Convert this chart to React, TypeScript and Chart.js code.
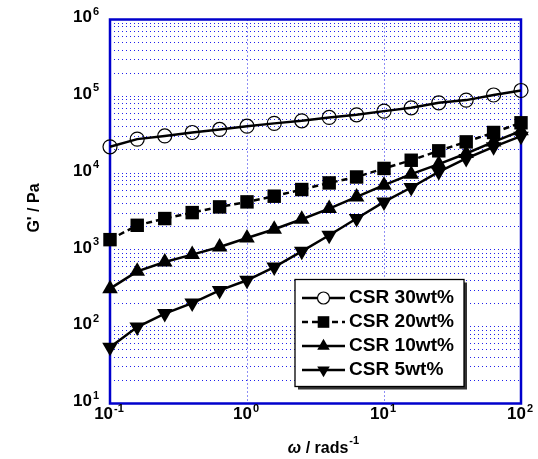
import React, { useEffect, useRef } from 'react';
import { Chart, registerables } from 'chart.js';

Chart.register(...registerables);

// ---- data ----
const omega = [0.1, 0.158, 0.251, 0.398, 0.631, 1, 1.58, 2.51, 3.98, 6.31, 10, 15.8, 25.1, 39.8, 63.1, 100];
const csr30 = [22000, 27700, 30500, 33800, 37000, 40800, 44400, 48000, 53100, 57400, 64100, 70800, 82300, 89200, 104000, 119000];
const csr20 = [1360, 2090, 2560, 3060, 3630, 4220, 5000, 6110, 7450, 8900, 11500, 14700, 19500, 25500, 33800, 45200];
const csr10 = [313, 526, 695, 868, 1090, 1430, 1860, 2510, 3450, 4900, 6960, 9680, 13100, 18000, 25500, 35500];
const csr5 = [54, 99, 148, 203, 297, 402, 598, 959, 1550, 2560, 4220, 6490, 10400, 15500, 22000, 30300];
const seriesLabels = ['CSR 30wt%', 'CSR 20wt%', 'CSR 10wt%', 'CSR 5wt%'];
const xTickExponents = [-1, 0, 1, 2];
const yTickExponents = [1, 2, 3, 4, 5, 6];
const yTitle = "G' / Pa";
const xTitleSymbol = 'ω';
const xTitleRest = ' / rads';
const xTitleSup = '-1';

const BLUE = '#0000cc';
const GRID = 'rgba(20,20,235,0.95)';
const FONT = '"Liberation Sans", Arial, sans-serif';

type Marker = 'circle' | 'rect' | 'triUp' | 'triDown';
const markers: Marker[] = ['circle', 'rect', 'triUp', 'triDown'];

function drawMarker(ctx: CanvasRenderingContext2D, kind: Marker, x: number, y: number, s: number) {
  ctx.save();
  ctx.setLineDash([]);
  ctx.beginPath();
  if (kind === 'circle') {
    ctx.arc(x, y, s, 0, Math.PI * 2);
    ctx.fillStyle = '#fff';
    ctx.fill();
    ctx.lineWidth = 1.2;
    ctx.strokeStyle = '#000';
    ctx.stroke();
  } else if (kind === 'rect') {
    ctx.rect(x - s, y - s, 2 * s, 2 * s);
    ctx.fillStyle = '#000';
    ctx.fill();
  } else {
    const d = kind === 'triUp' ? 1 : -1;
    const r = s * 1.25;
    ctx.moveTo(x, y - d * r);
    ctx.lineTo(x + r * 0.866, y + d * r * 0.5);
    ctx.lineTo(x - r * 0.866, y + d * r * 0.5);
    ctx.closePath();
    ctx.fillStyle = '#000';
    ctx.fill();
  }
  ctx.restore();
}

function drawPow(ctx: CanvasRenderingContext2D, x: number, y: number, exp: number, align: 'right' | 'center') {
  const main = '10';
  const sup = String(exp);
  ctx.font = `bold 17px ${FONT}`;
  const wm = ctx.measureText(main).width;
  ctx.font = `bold 11px ${FONT}`;
  const ws = ctx.measureText(sup).width;
  const total = wm + 1 + ws;
  const left = align === 'right' ? x - total : x - total / 2;
  ctx.fillStyle = '#000';
  ctx.textAlign = 'left';
  ctx.textBaseline = 'middle';
  ctx.font = `bold 17px ${FONT}`;
  ctx.fillText(main, left, y);
  ctx.font = `bold 11px ${FONT}`;
  ctx.textBaseline = 'alphabetic';
  ctx.fillText(sup, left + wm + 1, y - 3);
}

const decorPlugin = {
  id: 'decor',
  beforeDatasetsDraw(chart: any) {
    const { ctx, chartArea: a } = chart;
    ctx.save();
    ctx.strokeStyle = BLUE;
    ctx.lineWidth = 2.5;
    ctx.setLineDash([]);
    ctx.strokeRect(a.left, a.top, a.right - a.left, a.bottom - a.top);
    ctx.restore();
  },
  afterDraw(chart: any) {
    const { ctx, chartArea: a } = chart;
    const xs = chart.scales.x;
    const ys = chart.scales.y;
    ctx.save();
    // tick labels
    yTickExponents.forEach((e) => {
      drawPow(ctx, a.left - 11, ys.getPixelForValue(Math.pow(10, e)) - 2, e, 'right');
    });
    xTickExponents.forEach((e) => {
      drawPow(ctx, xs.getPixelForValue(Math.pow(10, e)) - 1, a.bottom + 11, e, 'center');
    });
    // y title
    ctx.save();
    ctx.translate(35, 208);
    ctx.rotate(-Math.PI / 2);
    ctx.font = `bold 16px ${FONT}`;
    ctx.textAlign = 'center';
    ctx.textBaseline = 'middle';
    ctx.fillStyle = '#000';
    ctx.fillText(yTitle, 0, 0);
    ctx.restore();
    // x title
    ctx.font = `italic bold 16px ${FONT}`;
    const w1 = ctx.measureText(xTitleSymbol).width;
    ctx.font = `bold 16px ${FONT}`;
    const w2 = ctx.measureText(xTitleRest).width;
    ctx.font = `bold 11px ${FONT}`;
    const w3 = ctx.measureText(xTitleSup).width;
    const total = w1 + w2 + 1 + w3;
    let lx = 323.5 - total / 2;
    const base = 453;
    ctx.textAlign = 'left';
    ctx.textBaseline = 'alphabetic';
    ctx.fillStyle = '#000';
    ctx.font = `italic bold 16px ${FONT}`;
    ctx.fillText(xTitleSymbol, lx, base);
    lx += w1;
    ctx.font = `bold 16px ${FONT}`;
    ctx.fillText(xTitleRest, lx, base);
    lx += w2 + 1;
    ctx.font = `bold 11px ${FONT}`;
    ctx.fillText(xTitleSup, lx, base - 9);

    // legend
    const bx = 295, by = 279.5, bw = 169, bh = 107;
    ctx.fillStyle = '#333';
    ctx.fillRect(bx + 3, by + 3, bw, bh);
    ctx.fillStyle = '#fff';
    ctx.fillRect(bx, by, bw, bh);
    ctx.strokeStyle = '#000';
    ctx.lineWidth = 1.3;
    ctx.strokeRect(bx, by, bw, bh);
    const rows = [298, 322, 346, 370];
    chart.data.datasets.forEach((ds: any, i: number) => {
      const ry = rows[i];
      ctx.save();
      ctx.strokeStyle = '#000';
      ctx.lineWidth = 2.5;
      ctx.setLineDash(ds.borderDash || []);
      ctx.beginPath();
      ctx.moveTo(302, ry);
      ctx.lineTo(345, ry);
      ctx.stroke();
      ctx.restore();
      drawMarker(ctx, markers[i], 323.5, ry, markers[i] === 'circle' ? 6 : 5.8);
      ctx.save();
      ctx.font = `bold 18px ${FONT}`;
      ctx.fillStyle = '#000';
      ctx.textAlign = 'left';
      ctx.textBaseline = 'middle';
      ctx.translate(349, ry + 0.5);
      ctx.scale(1.06, 1);
      ctx.fillText(ds.label, 0, 0);
      ctx.restore();
    });
    ctx.restore();
  },
};

export default function App() {
  const ref = useRef<HTMLCanvasElement | null>(null);
  useEffect(() => {
    if (!ref.current) return;
    const mk = (vals: number[]) => vals.map((v, i) => ({ x: omega[i], y: v }));
    const chart = new Chart(ref.current, {
      type: 'line',
      data: {
        datasets: [
          {
            label: seriesLabels[0],
            data: mk(csr30),
            borderColor: '#000',
            borderWidth: 2.5,
            pointStyle: 'circle',
            pointRadius: 7,
            pointBorderWidth: 1.2,
            pointBorderColor: '#000',
            pointBackgroundColor: 'rgba(255,255,255,0)',
            clip: false,
          },
          {
            label: seriesLabels[1],
            data: mk(csr20),
            borderColor: '#000',
            borderWidth: 2.5,
            borderDash: [6, 4],
            pointStyle: 'rect',
            pointRadius: 9.5,
            pointBorderWidth: 0,
            pointBackgroundColor: '#000',
            clip: false,
          },
          {
            label: seriesLabels[2],
            data: mk(csr10),
            borderColor: '#000',
            borderWidth: 2.5,
            pointStyle: 'triangle',
            pointRadius: 9,
            pointBorderWidth: 0,
            pointBackgroundColor: '#000',
            clip: false,
          },
          {
            label: seriesLabels[3],
            data: mk(csr5),
            borderColor: '#000',
            borderWidth: 2.5,
            pointStyle: 'triangle',
            pointRotation: 180,
            pointRadius: 9,
            pointBorderWidth: 0,
            pointBackgroundColor: '#000',
            clip: false,
          },
        ] as any,
      },
      options: {
        animation: false,
        responsive: false,
        maintainAspectRatio: false,
        devicePixelRatio: 1,
        layout: { padding: { left: 110, top: 19.5, right: 17, bottom: 55.5 } },
        plugins: { legend: { display: false }, tooltip: { enabled: false } },
        elements: { line: { tension: 0 } },
        scales: {
          x: {
            type: 'logarithmic',
            min: 0.1,
            max: 100,
            ticks: { display: false },
            grid: { color: GRID, lineWidth: 1, drawTicks: false },
            border: { display: false, dash: [1, 3] },
            title: { display: false },
            afterBuildTicks: (s: any) => {
              s.ticks = xTickExponents.map((e) => ({ value: Math.pow(10, e) }));
            },
          },
          y: {
            type: 'logarithmic',
            min: 10,
            max: 1e6,
            ticks: { display: false },
            grid: { color: GRID, lineWidth: 1, drawTicks: false },
            border: { display: false, dash: [1, 3] },
            title: { display: false },
            afterBuildTicks: (s: any) => {
              const t: { value: number }[] = [];
              yTickExponents.forEach((e) => {
                if (e === yTickExponents[yTickExponents.length - 1]) {
                  t.push({ value: Math.pow(10, e) });
                  return;
                }
                for (let m = 1; m <= 9; m++) t.push({ value: m * Math.pow(10, e) });
              });
              s.ticks = t;
            },
          },
        },
      } as any,
      plugins: [decorPlugin],
    });
    return () => chart.destroy();
  }, []);
  return (
    <canvas
      ref={ref}
      width={538}
      height={459}
      style={{ position: 'absolute', left: 0, top: 0, width: 538, height: 459, display: 'block' }}
    />
  );
}
